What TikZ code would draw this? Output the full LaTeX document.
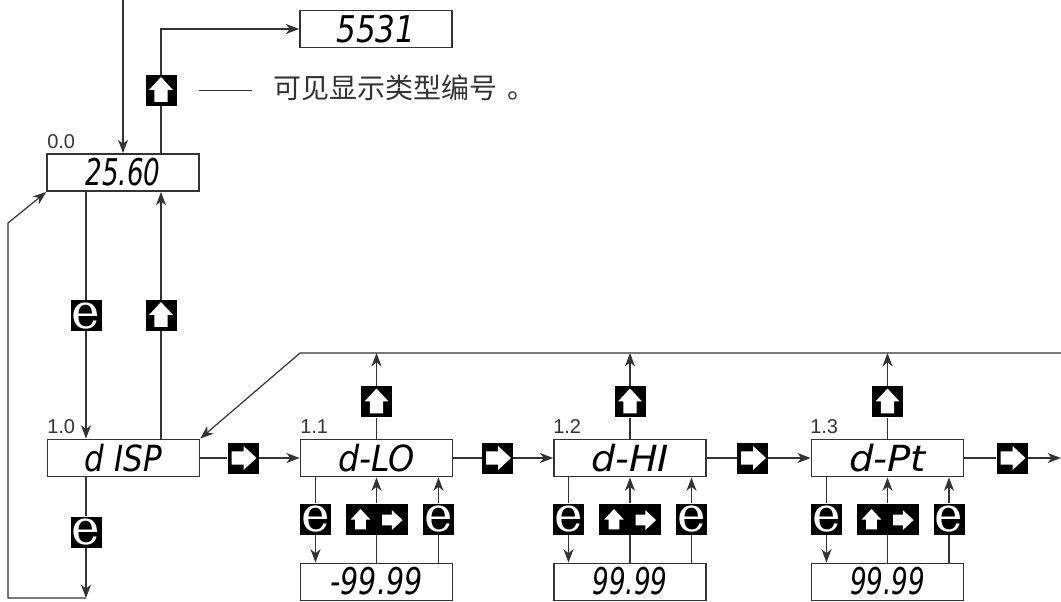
\documentclass[tikz,border=0pt]{standalone}
\usepackage{fontspec}
\usepackage{graphicx}
\setmainfont{Liberation Sans}
\newfontfamily\cjkfont{Noto Sans CJK SC}
\newfontfamily\dispfont{DejaVu Sans}
\newfontfamily\keyfont{DejaVu Serif}
\usetikzlibrary{arrows.meta}
\definecolor{lc}{HTML}{333333}
\newcommand{\disptext}[2]{\resizebox{#1}{20.5pt}{\dispfont\itshape #2}}
\newcommand{\keye}{{\keyfont\fontsize{36}{36}\selectfont\raisebox{-0.265em}[0pt][0pt]{e}}}
\tikzset{
  dispbox/.style={draw=lc, line width=1.2pt, minimum width=114pt, minimum height=28pt, inner sep=0pt},
  subbox/.style={dispbox, text depth=1.5pt},
  lbl/.style={font=\fontsize{15}{15}\selectfont, text=lc, inner sep=0pt, anchor=base west},
  keybox/.style={fill=black, minimum size=23.25pt, inner sep=0pt, text=white},
  dkey/.style={keybox, minimum width=46.5pt},
  warr/.pic={\fill[white] (0pt,10.1pt) -- (9pt,0.4pt) -- (4.9pt,0.4pt) -- (4.9pt,-8.6pt)
    -- (-4.9pt,-8.6pt) -- (-4.9pt,0.4pt) -- (-9pt,0.4pt) -- cycle;},
  ln/.style={draw=lc, line width=0.9pt},
  arr/.style={ln, -{Stealth[length=10pt,width=7.5pt,inset=3pt]}},
}
\begin{document}
\begin{tikzpicture}[x=0.75pt, y=-0.75pt]
\useasboundingbox (0,0) rectangle (1061,602);
% display boxes
\node[dispbox] (bT) at (376,29) {\disptext{59.25pt}{5531}};
\node[dispbox] (b00) at (123,172.5) {\disptext{56.25pt}{25.60}};
\node[dispbox] (b10) at (123.5,458) {\disptext{57.75pt}{d ISP}};
\node[dispbox] (b11) at (376.5,458) {\disptext{57.75pt}{d-LO}};
\node[dispbox] (b12) at (630,458) {\disptext{58.5pt}{d-HI}};
\node[dispbox] (b13) at (887.5,458) {\disptext{57.75pt}{d-Pt}};
\node[subbox] (v11) at (376.5,582) {\disptext{69pt}{-99.99}};
\node[subbox] (v12) at (630,582) {\disptext{56.25pt}{99.99}};
\node[subbox] (v13) at (887.5,582) {\disptext{56.25pt}{99.99}};
% labels
\node[lbl] (l00) at (47,149) {0.0};
\node[lbl] (l10) at (47,434) {1.0};
\node[lbl] (l11) at (300,434) {1.1};
\node[lbl] (l12) at (553,434) {1.2};
\node[lbl] (l13) at (810,434) {1.3};
% keys
\node[keybox] (kT) at (161,90.5) {};
\node[keybox] (k0e) at (86,315.5) {\keye};
\node[keybox] (k0u) at (161,315.5) {};
\node[keybox] (k1e) at (86,532) {\keye};
\node[keybox] (kr0) at (243,458) {};
\node[keybox] (kr1) at (497.5,458) {};
\node[keybox] (kr2) at (752.5,458) {};
\node[keybox] (kr3) at (1012,458) {};
\node[keybox] (ku1) at (376.5,402) {};
\node[keybox] (ku2) at (630,402) {};
\node[keybox] (ku3) at (887.5,402) {};
\node[keybox] (ke1) at (315.5,519) {\keye};
\node[dkey] (kd1) at (376.5,519) {};
\node[keybox] (kf1) at (438.5,519) {\keye};
\node[keybox] (ke2) at (568.5,519) {\keye};
\node[dkey] (kd2) at (630,519) {};
\node[keybox] (kf2) at (691.5,519) {\keye};
\node[keybox] (ke3) at (826.5,519) {\keye};
\node[dkey] (kd3) at (887.5,519) {};
\node[keybox] (kf3) at (949,519) {\keye};
% white arrows on keys
\foreach \k in {kT,k0u,ku1,ku2,ku3}{ \pic at (\k) {warr}; }
\foreach \k in {kr0,kr1,kr2,kr3}{ \pic[rotate=-90] at (\k) {warr}; }
\foreach \k in {kd1,kd2,kd3}{
  \pic[scale=0.82] at ([xshift=-12pt,yshift=-0.8pt]\k.center) {warr};
  \pic[scale=0.82,rotate=-90] at ([xshift=11.25pt,yshift=-0.8pt]\k.center) {warr};
}
% note
\coordinate (d1) at (199,90);
\coordinate (d2) at (252,90);
\draw[ln, line width=0.7pt] (d1) -- (d2);
\node[anchor=west, inner sep=0pt, text=lc, font=\cjkfont\fontsize{21}{21}\selectfont] (note) at (273,88) {可见显示类型编号\hspace{8pt}。};
% coordinates
\coordinate (top) at (123,0);
\coordinate (loopc) at (86,598);
\coordinate (lp1) at (8,598);
\coordinate (lp2) at (8,223);
\coordinate (fbR) at (1061,353);
\coordinate (fbL) at (300,353);
\coordinate (outR) at (1061,458);
% connectors
\draw[arr] (top) -- (b00);
\draw[arr] (kT |- b00.north) -- (kT) -- (kT |- bT) -- (bT);
\draw[arr] (k0e |- b00.south) -- (k0e) -- (k0e |- b10.north);
\draw[arr] (k0u |- b10.north) -- (k0u) -- (k0u |- b00.south);
\draw[arr] (k1e |- b10.south) -- (k1e) -- (loopc);
\draw[arr] (loopc) -- (lp1) -- (lp2) -- (b00.south west);
\draw[arr] (fbR) -- (fbL) -- (b10.north east);
\draw[arr] (b10) -- (kr0) -- (b11);
\draw[arr] (b11) -- (kr1) -- (b12);
\draw[arr] (b12) -- (kr2) -- (b13);
\draw[arr] (b13) -- (kr3) -- (outR);
\draw[arr] (b11) -- (ku1) -- (ku1 |- fbL);
\draw[arr] (b12) -- (ku2) -- (ku2 |- fbL);
\draw[arr] (b13) -- (ku3) -- (ku3 |- fbL);
\foreach \i in {1,2,3}{
  \draw[arr] (ke\i |- b1\i.south) -- (ke\i) -- (ke\i |- v1\i.north);
  \draw[arr] (kd\i |- v1\i.north) -- (kd\i) -- (kd\i |- b1\i.south);
  \draw[arr] (kf\i |- v1\i.north) -- (kf\i) -- (kf\i |- b1\i.south);
}
\end{tikzpicture}
\end{document}
